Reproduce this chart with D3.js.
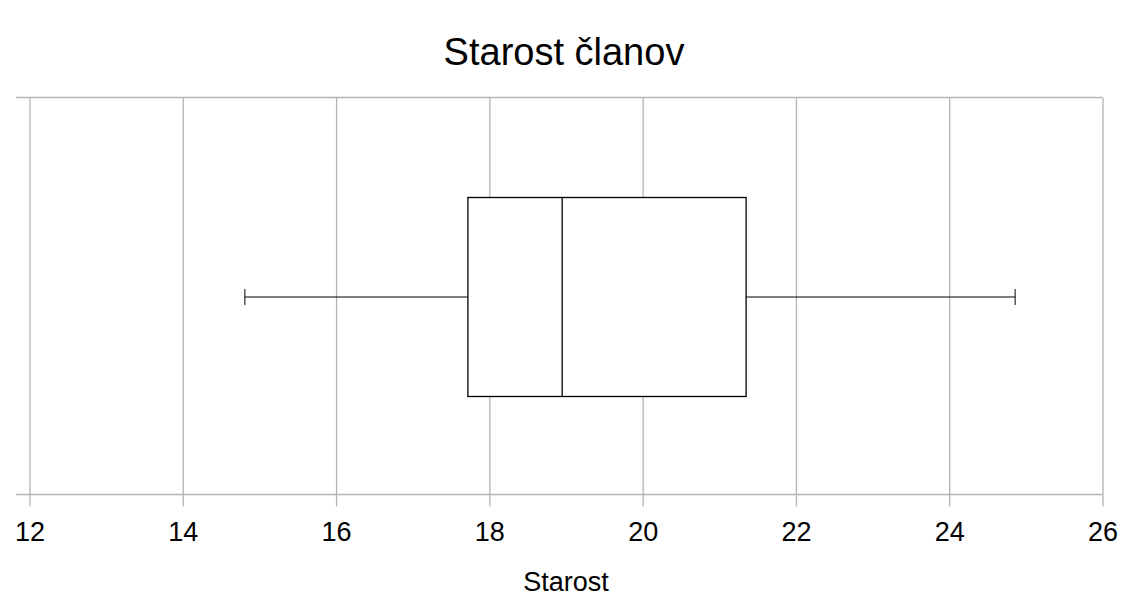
<!DOCTYPE html>
<html>
<head>
<meta charset="utf-8">
<script src="https://cdn.jsdelivr.net/npm/d3@7"></script>
<style>
  html, body { margin: 0; padding: 0; background: #fff; }
  svg { display: block; font-family: "Liberation Sans", Arial, sans-serif; }
</style>
</head>
<body>
<svg id="chart" width="1132" height="614"></svg>
<script>
const title = "Starost članov";
const axisTitle = "Starost";
const categories = ["Starost"];
const minValues = [14.81];
const q1Values = [17.72];
const medianValues = [18.95];
const q3Values = [21.35];
const maxValues = [24.86];
const tickValues = [12, 14, 16, 18, 20, 22, 24, 26];

const svg = d3.select("#chart");
const plotLeft = 29.5, plotRight = 1102.5, plotTop = 97.5, plotBottom = 494.5;
const gridColor = "#b3b3b3";

const x = d3.scaleLinear().domain([12, 26]).range([plotLeft, plotRight]);
const y = d3.scaleBand().domain(categories).range([plotTop, plotBottom]).paddingInner(0).paddingOuter(0.5);

// horizontal frame lines (top & bottom)
svg.append("g").selectAll("line").data([plotTop, plotBottom]).join("line")
  .attr("x1", 16).attr("x2", plotRight)
  .attr("y1", d => d).attr("y2", d => d)
  .attr("stroke", gridColor).attr("stroke-width", 1.3);

// x axis with gridlines
const xAxis = d3.axisBottom(x).tickValues(tickValues).tickSize(plotBottom - plotTop + 12).tickPadding(15).tickFormat(d3.format("d"));
const gx = svg.append("g").attr("transform", `translate(0,${plotTop})`).call(xAxis);
gx.select(".domain").remove();
gx.selectAll(".tick line").attr("stroke", gridColor).attr("stroke-width", 1.3);
gx.selectAll(".tick text").attr("fill", "#000").attr("font-size", 27).attr("font-family", "Liberation Sans, Arial, sans-serif");

// title
svg.append("text").attr("x", 564).attr("y", 65).attr("text-anchor", "middle")
  .attr("font-size", 38).attr("fill", "#000").text(title);
// axis title
svg.append("text").attr("x", 566).attr("y", 591).attr("text-anchor", "middle")
  .attr("font-size", 27).attr("fill", "#000").text(axisTitle);

// box plots
const data = categories.map((c, i) => ({c, min: minValues[i], q1: q1Values[i], med: medianValues[i], q3: q3Values[i], max: maxValues[i]}));
const g = svg.append("g");
data.forEach(d => {
  const y0 = Math.round(y(d.c)) + 0.5;
  const bh = Math.round(y.bandwidth());
  const yc = y0 + bh / 2;
  const capH = 16;
  g.append("line").attr("x1", x(d.min)).attr("x2", x(d.q1)).attr("y1", yc).attr("y2", yc).attr("stroke", "#000").attr("stroke-width", 1);
  g.append("line").attr("x1", x(d.q3)).attr("x2", x(d.max)).attr("y1", yc).attr("y2", yc).attr("stroke", "#000").attr("stroke-width", 1);
  g.append("line").attr("x1", x(d.min)).attr("x2", x(d.min)).attr("y1", yc - capH / 2).attr("y2", yc + capH / 2).attr("stroke", "#000");
  g.append("line").attr("x1", x(d.max)).attr("x2", x(d.max)).attr("y1", yc - capH / 2).attr("y2", yc + capH / 2).attr("stroke", "#000");
  g.append("rect").attr("x", x(d.q1)).attr("y", y0).attr("width", x(d.q3) - x(d.q1)).attr("height", bh)
    .attr("fill", "#fff").attr("stroke", "#000").attr("stroke-width", 1.3);
  g.append("line").attr("x1", x(d.med)).attr("x2", x(d.med)).attr("y1", y0).attr("y2", y0 + bh).attr("stroke", "#000").attr("stroke-width", 1.3);
});
</script>
</body>
</html>
